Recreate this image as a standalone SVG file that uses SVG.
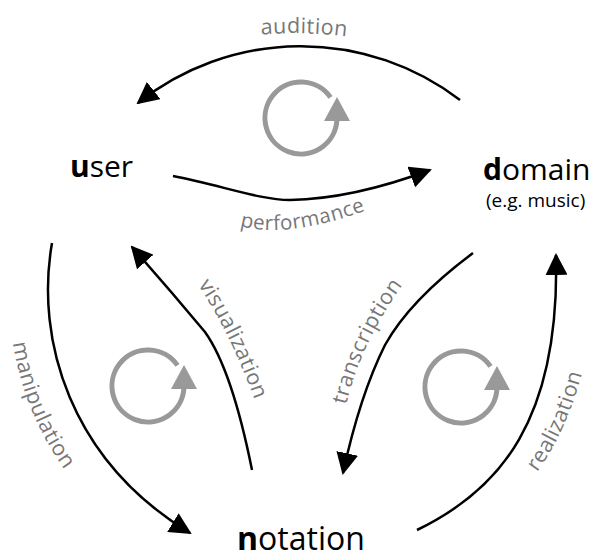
<svg xmlns="http://www.w3.org/2000/svg" width="596" height="560" viewBox="0 0 596 560">
<style>
.node{font-family:"Open Sans","DejaVu Sans",sans-serif;fill:#000;}
.big{font-size:30px;}
.b{font-weight:700;}
.sub{font-size:19px;}
.edge{fill:none;stroke:#000;stroke-width:2.5;marker-end:url(#ah);}
.lbl{font-family:"Open Sans","DejaVu Sans",sans-serif;font-size:21.5px;fill:#777;letter-spacing:0.4px;}
.cyc{fill:none;stroke:#999;stroke-width:5;}
.cyh{fill:#999;}
</style>
<defs>
<marker id="ah" markerUnits="userSpaceOnUse" markerWidth="22" markerHeight="22" viewBox="0 0 22 22" refX="20" refY="11" orient="auto"><path d="M0,0 L22,11 L0,22 z" fill="#000"/></marker>
<g id="cycle">
<path class="cyc" d="M35.9,2.5 A36,36 0 1 1 29.49,-20.65"/>
<path class="cyh" d="M36,-21 L49,3 L23,3 z"/>
</g>
<path id="tp-aud" d="M 261 34.5 Q 310 31 358 38"/>
<path id="tp-perf" d="M 240 226 Q 290 240 378 206"/>
<path id="tp-man" d="M 13 343 Q 25 420 74 482"/>
<path id="tp-vis" d="M 198 285 Q 232 335 259 412"/>
<path id="tp-tra" d="M 346 405 Q 362 340 405 282"/>
<path id="tp-rea" d="M 537 472 Q 568 430 585 362"/>
</defs>

<g id="cycles">
<use href="#cycle" transform="translate(301,118)"/>
<use href="#cycle" transform="translate(148,386)"/>
<use href="#cycle" transform="translate(461,387)"/>
</g>

<g id="connectors">
<path id="e-audition" class="edge" d="M 460 100 A 262 262 0 0 0 138 103"/>
<path id="e-performance" class="edge" d="M 173 176 C 220 185, 260 200, 290 200 C 340 199, 390 185, 430 170"/>
<path id="e-manipulation" class="edge" d="M 52 243 C 35 340, 70 460, 190 533"/>
<path id="e-visualization" class="edge" d="M 252 470 Q 232 370, 205 332 Q 170 290, 132 247"/>
<path id="e-transcription" class="edge" d="M 473 253 Q 410 300, 385 345 Q 360 395, 343 473"/>
<path id="e-realization" class="edge" d="M 417 530 C 500 490, 560 420, 556 255"/>
</g>

<g id="labels">
<text class="lbl"><textPath href="#tp-aud">audition</textPath></text>
<text class="lbl" style="font-size:20.5px"><textPath href="#tp-perf">performance</textPath></text>
<text class="lbl"><textPath href="#tp-man">manipulation</textPath></text>
<text class="lbl"><textPath href="#tp-vis">visualization</textPath></text>
<text class="lbl"><textPath href="#tp-tra">transcription</textPath></text>
<text class="lbl"><textPath href="#tp-rea">realization</textPath></text>
</g>

<g id="user">
<text class="node big" x="70" y="177"><tspan class="b">u</tspan>ser</text>
</g>
<g id="domain">
<text class="node big" x="483" y="180"><tspan class="b">d</tspan>omain</text>
<text class="node sub" x="486" y="207">(e.g. music)</text>
</g>
<g id="notation">
<text class="node big" x="237" y="550" style="font-size:32px"><tspan class="b">n</tspan>otation</text>
</g>
</svg>
